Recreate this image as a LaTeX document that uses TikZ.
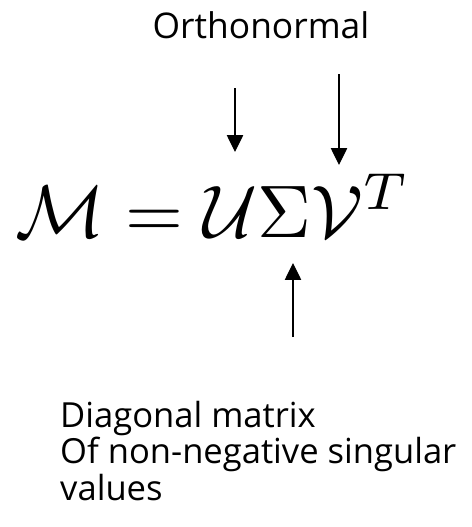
\documentclass[tikz,border=0pt]{standalone}
\usepackage{amsmath}
\usepackage{graphicx}
\usepackage{fontspec}
\setmainfont{Open Sans}
\usetikzlibrary{arrows.meta,positioning}

\tikzset{
  pointer/.style={line width=1pt,-{Triangle[length=14.5pt,width=14pt]}},
  label text/.style={font=\fontsize{29.5}{31}\selectfont,inner sep=0pt}
}

\begin{document}
\begin{tikzpicture}[x=0.03cm,y=-0.03cm]
\useasboundingbox (0,0) rectangle (472,527);
% headline and formula
\node[label text,anchor=base,font=\fontsize{30.2}{32}\selectfont] (ortho) at (261,38) {Orthonormal};
\node[anchor=base west,inner sep=0pt] (svd) at (15,237) {\resizebox{11.85cm}{!}{$\mathcal{M}=\mathcal{U}\Sigma\mathcal{V}^T$}};
% arrows onto U, V and Sigma
\coordinate (utail) at (235,88);
\coordinate (uhead) at (235,152);
\coordinate (vtail) at (339,74);
\coordinate (vhead) at (339,165);
\coordinate (stail) at (293,337);
\coordinate (shead) at (293,263);
\draw[pointer] (utail) -- (uhead);
\draw[pointer] (vtail) -- (vhead);
\draw[pointer] (stail) -- (shead);
% note under Sigma
\node[label text,anchor=base west,align=left] (diag) at (60,500) {Diagonal matrix\\Of non-negative singular\\values};
\end{tikzpicture}
\end{document}
